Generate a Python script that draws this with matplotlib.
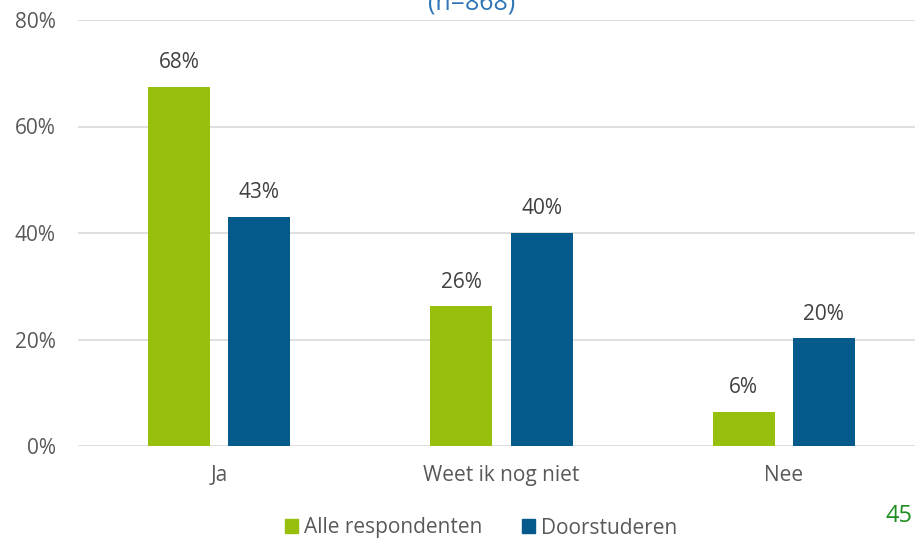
import matplotlib
matplotlib.use("Agg")
import matplotlib.pyplot as plt
import numpy as np
from matplotlib.patches import Rectangle

categories = ["Ja", "Weet ik nog niet", "Nee"]
alle_respondenten = [67.5, 26.2, 6.4]
doorstuderen = [43.0, 40.0, 20.2]
series_names = ["Alle respondenten", "Doorstuderen"]
y_ticks = [0, 20, 40, 60, 80]

GREEN = "#97BF0D"
BLUE = "#055A8C"
TEXT = "#595959"

plt.rcParams["font.family"] = ["Open Sans", "DejaVu Sans"]

fig = plt.figure(figsize=(9.15, 5.38), dpi=100)
ax = fig.add_axes([78 / 915, 1 - 446 / 538, 847 / 915, 426 / 538])

x = np.arange(len(categories))
w = 0.22
off = 0.142
b1 = ax.bar(x - off, alle_respondenten, width=w, color=GREEN, zorder=3)
b2 = ax.bar(x + off, doorstuderen, width=w, color=BLUE, zorder=3)

for bars, vals in ((b1, alle_respondenten), (b2, doorstuderen)):
    for rect, v in zip(bars, vals):
        ax.annotate(f"{v:.0f}%", (rect.get_x() + rect.get_width() / 2, v),
                    xytext=(0, 17.5), textcoords="offset points",
                    ha="center", va="center", fontsize=15, color="#404040")

ax.set_xlim(-0.5, 2.5)
ax.set_ylim(0, 80)
ax.set_yticks(y_ticks)
ax.set_yticklabels([f"{t}%" for t in y_ticks])
ax.set_xticks(x)
ax.set_xticklabels(categories)
ax.tick_params(axis="both", length=0, labelsize=15, colors=TEXT)
ax.tick_params(axis="y", pad=16)
ax.tick_params(axis="x", pad=14)
ax.grid(axis="y", color="#D9D9D9", linewidth=1.2, zorder=0)
for s in ax.spines.values():
    s.set_visible(False)

# legend
handles = [Rectangle((0, 0), 1, 1, color=GREEN), Rectangle((0, 0), 1, 1, color=BLUE)]
fig.legend(handles, series_names, loc="center", bbox_to_anchor=(481 / 915, 1 - 528 / 538),
           ncol=2, frameon=False, fontsize=15, handlelength=0.62, handleheight=0.62,
           handletextpad=0.3, columnspacing=1.9, labelcolor=TEXT,
           borderpad=0, borderaxespad=0)

# title (running off the top of the page) and page number
fig.text(472 / 915, 1 - 10 / 538, "(n=868)", ha="center", va="baseline",
         fontsize=18, color="#2E75B6")
fig.text(913 / 915, 1 - 516 / 538, "45", ha="right", va="center",
         fontsize=17, color="#1E8C1E")

fig.savefig("out.png", dpi=100)
